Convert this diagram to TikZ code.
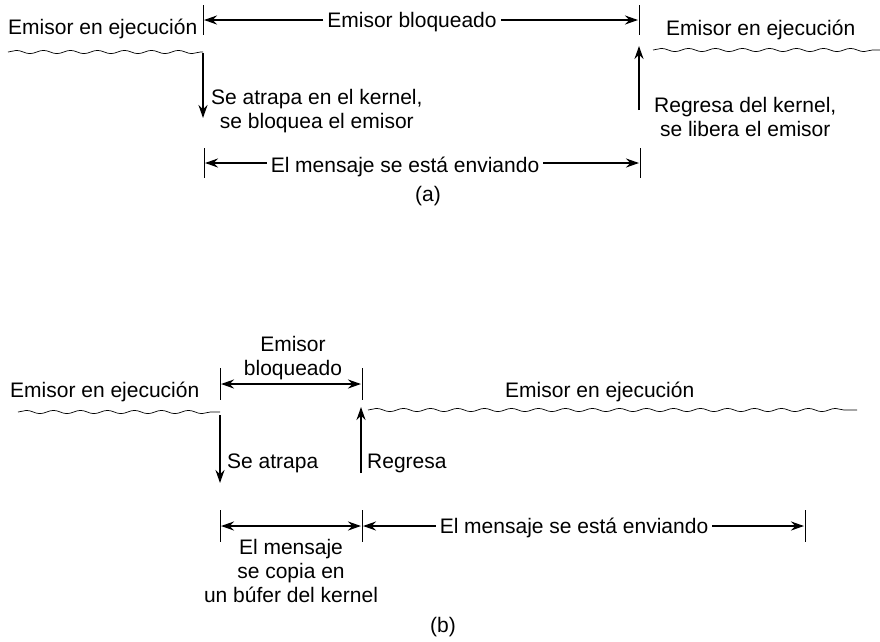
\documentclass[tikz,border=0pt]{standalone}
\usepackage{fontspec}
\setmainfont{Liberation Sans}
\usetikzlibrary{arrows.meta, decorations.pathmorphing}

\begin{document}
\begin{tikzpicture}[
    x=1pt, y=-1pt,
    >={Stealth[length=13pt, width=9pt]},
    font=\fontsize{21}{24}\selectfont,
    lbl/.style   ={inner sep=0pt, anchor=base},
    lblw/.style  ={inner sep=0pt, anchor=base west},
    note/.style  ={inner sep=0pt, align=center},
    tick/.style  ={line width=1pt},
    flow/.style  ={->, line width=2.1pt},
    span/.style  ={<->, line width=2.1pt},
    wave/.style  ={line width=0.7pt, decorate,
                   decoration={snake, amplitude=1.6pt, segment length=27pt}}
]
\useasboundingbox (0,0) rectangle (880,641);

% ---------------- (a) ----------------
\coordinate (aL)  at (203,20);
\coordinate (aR)  at (639,20);
\coordinate (aML) at (204,163);
\coordinate (aMR) at (640,163);

\draw[tick] ([yshift=15pt]aL) -- ([yshift=-15pt]aL);
\draw[tick] ([yshift=15pt]aR) -- ([yshift=-15pt]aR);
\draw[tick] ([yshift=15pt]aML) -- ([yshift=-15pt]aML);
\draw[tick] ([yshift=15pt]aMR) -- ([yshift=-15pt]aMR);

\node[lblw] (runA1) at (8,34)   {Emisor en ejecución};
\node[lblw] (runA2) at (666,35) {Emisor en ejecución};
\node[lbl, inner xsep=4pt] (blkA) at (412,27) {Emisor bloqueado};

\draw[flow] (blkA.west |- aL) -- ([xshift=1pt]aL);
\draw[flow] (blkA.east |- aR) -- ([xshift=-1pt]aR);

% wavy execution lines
\coordinate (wA1) at (8,52);
\coordinate (wA2) at (653,50);
\draw[wave] (wA1) -- (wA1 -| aL);
\draw[wave] (wA2) -- ++(227,0);

% trap and return
\coordinate (trapA) at (203,53);
\coordinate (retA)  at (639,110);
\draw[flow] (trapA) -- ++(0,65);
\draw[flow] (retA) -- ++(0,-64);

\node[note, anchor=north west] (noteTrapA) at (211,89)
    {Se atrapa en el kernel,\\se bloquea el emisor};
\node[note, anchor=north west] (noteRetA) at (654,97)
    {Regresa del kernel,\\se libera el emisor};

% message being sent
\node[lbl, inner xsep=4pt] (sendA) at (405,172) {El mensaje se está enviando};
\draw[flow] (sendA.west |- aML) -- ([xshift=1pt]aML);
\draw[flow] (sendA.east |- aMR) -- ([xshift=-1pt]aMR);

\node (capA) at (428,196) {(a)};

% ---------------- (b) ----------------
\coordinate (bL)  at (220,384);
\coordinate (bR)  at (362,384);
\coordinate (bML) at (220,526);
\coordinate (bMM) at (362,526);
\coordinate (bMR) at (805,526);

\draw[tick] ([yshift=16pt]bL) -- ([yshift=-16pt]bL);
\draw[tick] ([yshift=16pt]bR) -- ([yshift=-16pt]bR);
\draw[tick] ([yshift=16pt]bML) -- ([yshift=-16pt]bML);
\draw[tick] ([yshift=16pt]bMM) -- ([yshift=-16pt]bMM);
\draw[tick] ([yshift=16pt]bMR) -- ([yshift=-16pt]bMR);

\node[lblw] (runB1) at (10,397)  {Emisor en ejecución};
\node[lblw] (runB2) at (505,397) {Emisor en ejecución};
\node[note, anchor=north] (blkB) at (293,336) {Emisor\\bloqueado};

\draw[span] ([xshift=1pt]bL) -- ([xshift=-1pt]bR);

% wavy execution lines
\coordinate (wB1) at (18,412);
\coordinate (wB2) at (368,410);
\draw[wave] (wB1) -- (wB1 -| bL);
\draw[wave] (wB2) -- ++(489,0);

% trap and return
\coordinate (trapB) at (220,415);
\coordinate (retB)  at (361,473);
\draw[flow] (trapB) -- ++(0,68);
\draw[flow] (retB) -- ++(0,-66);

\node[lblw] (noteTrapB) at (227,468) {Se atrapa};
\node[lblw] (noteRetB)  at (367,468) {Regresa};

% copy into kernel buffer, then sending
\draw[span] ([xshift=1pt]bML) -- ([xshift=-1pt]bMM);
\node[note, anchor=north] (copyB) at (291,539)
    {El mensaje\\se copia en\\un búfer del kernel};

\node[lbl, inner xsep=4pt] (sendB) at (574,533) {El mensaje se está enviando};
\draw[flow] (sendB.west |- bMM) -- ([xshift=1pt]bMM);
\draw[flow] (sendB.east |- bMR) -- ([xshift=-1pt]bMR);

\node (capB) at (443,627) {(b)};

\end{tikzpicture}
\end{document}
